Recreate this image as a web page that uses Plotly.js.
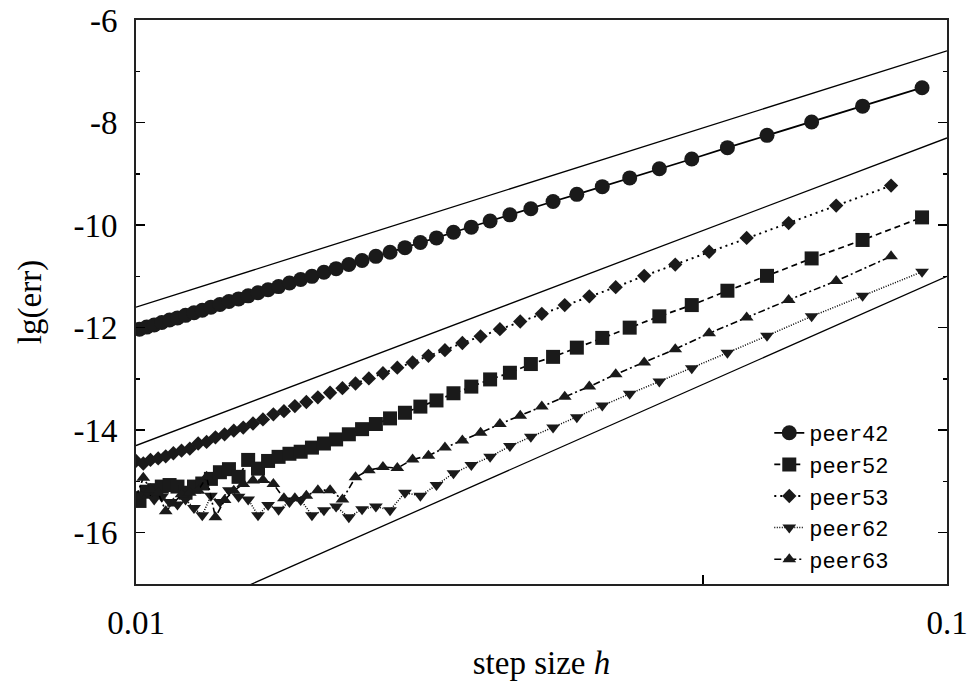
<!DOCTYPE html>
<html><head><meta charset="utf-8">
<script src="https://cdn.plot.ly/plotly-3.0.1.min.js"></script>
<style>html,body{margin:0;padding:0;background:#fff}#chart{width:969px;height:681px}</style>
</head><body><div id="chart"></div>
<script>
// step sizes h (ascending) for the runs with odd and even step counts
const hOdd = [0.01010, 0.01031, 0.01053, 0.01076, 0.01100, 0.01125, 0.01151, 0.01179, 0.01207, 0.01237,
  0.01269, 0.01302, 0.01338, 0.01375, 0.01414, 0.01455, 0.01499, 0.01546, 0.01596, 0.01648,
  0.01705, 0.01765, 0.01830, 0.01900, 0.01976, 0.02057, 0.02146, 0.02242, 0.02347, 0.02463,
  0.02591, 0.02733, 0.02891, 0.03068, 0.03268, 0.03496, 0.03758, 0.04062, 0.04419, 0.04845,
  0.05361, 0.05999, 0.06809, 0.07869, 0.09316];
const hEven = [0.01000, 0.01021, 0.01042, 0.01065, 0.01088, 0.01112, 0.01138, 0.01165, 0.01193, 0.01222,
  0.01253, 0.01286, 0.01320, 0.01356, 0.01394, 0.01434, 0.01477, 0.01522, 0.01570, 0.01622,
  0.01676, 0.01735, 0.01797, 0.01865, 0.01937, 0.02016, 0.02100, 0.02193, 0.02294, 0.02404,
  0.02526, 0.02660, 0.02810, 0.02977, 0.03165, 0.03378, 0.03622, 0.03904, 0.04233, 0.04623,
  0.05090, 0.05662, 0.06379, 0.07301, 0.08532];

// lg(err) values
const peer42 = [-12.03, -11.99, -11.95, -11.90, -11.85, -11.81, -11.76, -11.71, -11.66, -11.60,
  -11.55, -11.49, -11.44, -11.38, -11.32, -11.26, -11.20, -11.13, -11.06, -11.00,
  -10.92, -10.85, -10.77, -10.69, -10.61, -10.53, -10.44, -10.34, -10.25, -10.14,
  -10.04, -9.92, -9.80, -9.68, -9.54, -9.40, -9.25, -9.08, -8.90, -8.71,
  -8.49, -8.25, -7.99, -7.68, -7.32];
const peer52 = [-15.38, -15.20, -15.17, -15.10, -15.07, -15.10, -15.22, -15.10, -15.04, -14.95,
  -14.82, -14.76, -14.91, -14.58, -14.75, -14.60, -14.52, -14.46, -14.42, -14.34,
  -14.26, -14.18, -14.08, -13.98, -13.88, -13.77, -13.66, -13.54, -13.42, -13.28,
  -13.15, -13.01, -12.88, -12.71, -12.57, -12.39, -12.20, -12.00, -11.78, -11.56,
  -11.28, -10.99, -10.65, -10.29, -9.85];
const peer53 = [-14.60, -14.65, -14.58, -14.55, -14.51, -14.45, -14.40, -14.36, -14.26, -14.23,
  -14.14, -14.08, -14.01, -13.95, -13.87, -13.79, -13.69, -13.63, -13.53, -13.45,
  -13.36, -13.27, -13.18, -13.09, -12.99, -12.89, -12.78, -12.68, -12.55, -12.44,
  -12.30, -12.17, -12.03, -11.88, -11.73, -11.56, -11.39, -11.21, -10.99, -10.77,
  -10.52, -10.25, -9.96, -9.62, -9.23];
const peer62 = [-15.25, -15.20, -15.35, -15.30, -15.40, -15.45, -15.35, -15.52, -15.66, -15.28,
  -15.40, -15.17, -15.30, -15.35, -15.66, -15.46, -15.55, -15.40, -15.36, -15.66,
  -15.56, -15.49, -15.70, -15.54, -15.49, -15.56, -15.22, -15.28, -15.07, -14.84,
  -14.68, -14.52, -14.31, -14.13, -13.95, -13.75, -13.52, -13.29, -13.05, -12.79,
  -12.49, -12.16, -11.78, -11.38, -10.91];
const peer63 = [-15.30, -14.93, -15.15, -15.22, -15.58, -15.43, -15.25, -15.22, -15.18, -14.91,
  -15.70, -15.36, -15.18, -15.05, -14.98, -14.97, -15.05, -15.33, -15.33, -15.28,
  -15.17, -15.17, -15.35, -14.92, -14.78, -14.72, -14.74, -14.57, -14.50, -14.34,
  -14.20, -14.05, -13.88, -13.72, -13.54, -13.35, -13.15, -12.91, -12.68, -12.42,
  -12.11, -11.80, -11.46, -11.09, -10.61];

// reference order lines (slopes 5, 6, 7)
const refH = [0.01, 0.1];
const ref5 = [-11.6, -6.6];
const ref6 = [-14.3, -8.3];
const ref7 = [-18.0, -11.0];

// axis ticks
const xTickVals = [0.01, 0.05, 0.1];
const xTickText = ['0.01', '', '0.1'];
const yTickVals = [-16, -14, -12, -10, -8, -6];
const yTickText = ['-16', '-14', '-12', '-10', '-8', '-6'];
const yMinorVals = [-17, -15, -13, -11, -9, -7];

const refStyle = {color: '#000', width: 1.3};
const traces = [
  {x: refH, y: ref5, mode: 'lines', line: refStyle, showlegend: false, hoverinfo: 'skip'},
  {x: refH, y: ref6, mode: 'lines', line: refStyle, showlegend: false, hoverinfo: 'skip'},
  {x: refH, y: ref7, mode: 'lines', line: refStyle, showlegend: false, hoverinfo: 'skip'},
  {x: hOdd, y: peer42, name: 'peer42', mode: 'lines+markers',
   line: {color: '#000', width: 1.7},
   marker: {symbol: 'circle', size: 15, color: '#1a1a1a'}},
  {x: hOdd, y: peer52, name: 'peer52', mode: 'lines+markers',
   line: {color: '#000', width: 1.7, dash: '6px,4px'},
   marker: {symbol: 'square', size: 14, color: '#1a1a1a'}},
  {x: hEven, y: peer53, name: 'peer53', mode: 'lines+markers',
   line: {color: '#000', width: 1.9, dash: '2px,4px'},
   marker: {symbol: 'diamond', size: 11, color: '#1a1a1a'}},
  {x: hOdd, y: peer62, name: 'peer62', mode: 'lines+markers',
   line: {color: '#000', width: 1.5, dash: '1px,1.5px'},
   marker: {symbol: 'triangle-down', size: 12, color: '#1a1a1a'}},
  {x: hEven, y: peer63, name: 'peer63', mode: 'lines+markers',
   line: {color: '#000', width: 1.6, dash: '7px,3px,2px,3px'},
   marker: {symbol: 'triangle-up', size: 12, color: '#1a1a1a'}}
];

const layout = {
  width: 969, height: 681,
  margin: {l: 136, r: 22, t: 20, b: 97},
  paper_bgcolor: '#fff', plot_bgcolor: '#fff',
  font: {family: '"Liberation Serif", "DejaVu Serif", serif', size: 33, color: '#000'},
  showlegend: true,
  xaxis: {
    type: 'log', range: [-2, -1],
    tickmode: 'array', tickvals: xTickVals, ticktext: xTickText,
    ticks: 'inside', ticklen: 9, tickwidth: 1.5, tickcolor: '#000',
    showline: true, linewidth: 2, linecolor: '#222', mirror: true,
    showgrid: false, zeroline: false, ticklabelstandoff: 8,
    title: {text: 'step size <i>h</i>', standoff: 18, font: {size: 33}}
  },
  yaxis: {
    range: [-17, -6],
    tickmode: 'array', tickvals: yTickVals, ticktext: yTickText,
    ticks: 'inside', ticklen: 9, tickwidth: 1.5, tickcolor: '#000',
    minor: {tickmode: 'array', tickvals: yMinorVals, ticks: 'inside', ticklen: 4, tickwidth: 1.5, tickcolor: '#000', showgrid: false},
    showline: true, linewidth: 2, linecolor: '#222', mirror: 'ticks',
    showgrid: false, zeroline: false, ticklabelstandoff: 10,
    title: {text: 'lg(err)', standoff: 22, font: {size: 33}}
  },
  legend: {
    x: 0.935, xanchor: 'right', y: 0.305, yanchor: 'top',
    font: {family: '"Liberation Mono", "DejaVu Sans Mono", monospace', size: 22, color: '#000'},
    bgcolor: 'rgba(0,0,0,0)', borderwidth: 0, tracegroupgap: 0
  }
};

Plotly.newPlot('chart', traces, layout, {staticPlot: true, displayModeBar: false});
</script>
</body></html>
